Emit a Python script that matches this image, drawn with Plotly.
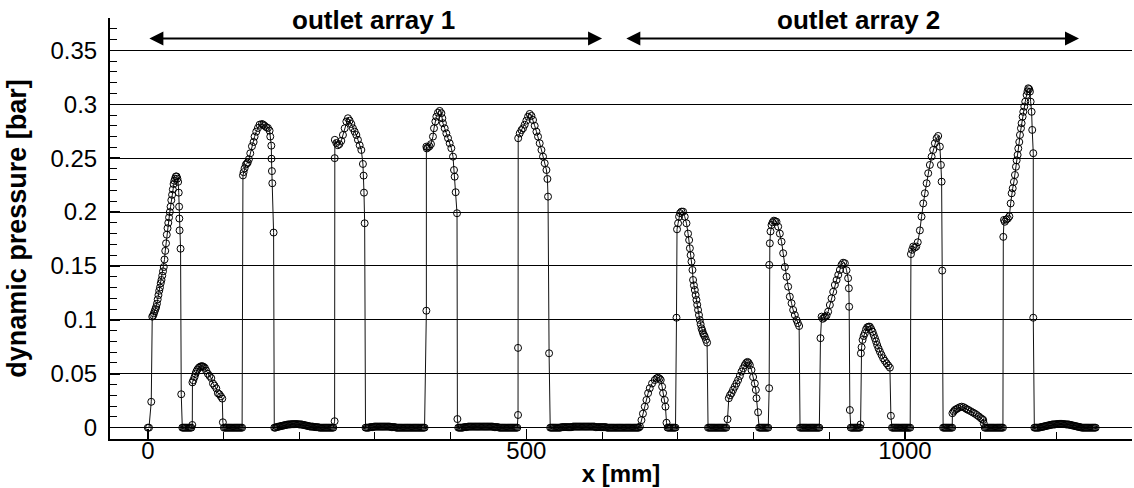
import plotly.graph_objects as go

# ---------------- data ----------------
# outlet array 1 region: x position [mm] and dynamic pressure [bar]
x_array1 = [
    # peak 1
    0, 1.5, 4.5, 5.8, 7, 8, 9, 10, 11, 12, 13, 14, 15, 16, 17, 18, 19, 20, 21, 22,
    23, 24, 25, 26, 27, 28, 29, 30, 31, 32, 33, 34, 35, 36, 37, 38, 39, 40,
    40.8, 41.3, 41.6, 41.9, 43.2, 44.1,
    # zeros
    45.5, 47, 48.5, 50, 51.5, 53, 54.5, 56, 57.5,
    # small bump
    58.7, 58.9, 60, 61.7, 63, 64, 65.5, 67.4, 69, 70.6, 72, 73.5, 75.3, 77, 79.3,
    81.5, 83.8, 86, 88, 90.4, 92.5, 94.5, 96.5, 98.3, 99.1,
    # zeros
    100.5, 102, 103.5, 105, 106.5, 108, 109.5, 111, 112.5, 114, 115.5, 117, 118.5,
    120, 121.5, 123, 124.5,
    # peak 2
    125.6, 126.5, 127.8, 129.5, 130.8, 132, 133.5, 135.3, 137.5, 139.7, 141, 143.2,
    145.4, 147.6, 150.7, 152.5, 154.2, 156.5, 158.6, 160.8, 161.7, 163.1, 163.3,
    163.9, 164.4, 166.1,
    # zeros
    167, 168.5, 170, 171.5, 173, 174.5, 176, 177.5, 179, 180.5,
    182, 183.5, 185, 186.5, 188, 189.5, 191, 192.5, 194, 195.5,
    197, 198.5, 200, 201.5, 203, 204.5, 206, 207.5, 209, 210.5,
    212, 213.5, 215, 216.5, 218, 219.5, 221, 222.5, 224, 225.5,
    227, 228.5, 230, 231.5, 233, 234.5, 236, 237.5, 239, 240.5,
    242, 243.5, 245,
    # peak 3
    246.7, 246.8, 247, 249, 251, 253, 255.5, 257.7, 260, 262.2, 264.3, 266.5, 268.8,
    270.9, 273.2, 275.4, 277.5, 279.8, 282, 284.1, 285, 285.5, 286.4,
    # zeros
    287.5, 289, 290.5, 292, 293.5, 295, 296.5, 298, 299.5, 301,
    302.5, 304, 305.5, 307, 308.5, 310, 311.5, 313, 314.5, 316,
    317.5, 319, 320.5, 322, 323.5, 325, 326.5, 328, 329.5, 331,
    332.5, 334, 335.5, 337, 338.5, 340, 341.5, 343, 344.5, 346,
    347.5, 349, 350.5, 352, 353.5, 355, 356.5, 358, 359.5, 361,
    362.5, 364, 365.5,
    # peak 4
    367.9, 367.9, 368.5, 370, 372, 374, 376.6, 378, 379.8, 381.1, 383.2, 385.5,
    387.7, 389, 389.8, 392.1, 394.3, 396.5, 398.7, 400.9, 403.1, 404.4, 405.3,
    406.6, 408.4, 408.9,
    # zeros
    410, 411.5, 413, 414.5, 416, 417.5, 419, 420.5, 422, 423.5,
    425, 426.5, 428, 429.5, 431, 432.5, 434, 435.5, 437, 438.5,
    440, 441.5, 443, 444.5, 446, 447.5, 449, 450.5, 452, 453.5,
    455, 456.5, 458, 459.5, 461, 462.5, 464, 465.5, 467, 468.5,
    470, 471.5, 473, 474.5, 476, 477.5, 479, 480.5, 482, 483.5,
    485, 486.5, 488,
    # peak 5
    489, 489, 489.2, 491.2, 493.5, 495.6, 497.8, 500, 502.2, 504.4, 506.7, 508.8,
    511, 513.3, 515.4, 517.6, 519.9, 522, 524.2, 526.5, 527.8, 528.6, 530,
    # zeros
    531.5, 533, 534.5, 536, 537.5, 539, 540.5, 542, 543.5, 545,
    546.5, 548, 549.5, 551, 552.5, 554, 555.5, 557, 558.5, 560,
    561.5, 563, 564.5, 566, 567.5, 569, 570.5, 572, 573.5, 575,
    576.5, 578, 579.5, 581, 582.5, 584, 585.5, 587, 588.5, 590,
    591.5, 593, 594.5, 596, 597.5, 599, 600.5, 602, 603.5, 605,
    606.5, 608, 609.5, 611, 612.5, 614, 615.5, 617, 618.5, 620,
    621.5, 623, 624.5, 626, 627.5, 629, 630.5, 632, 633.5, 635,
    636.5, 638, 639.5, 641, 642.5, 644, 645.5, 647, 648.5,
]
p_array1 = [
    # peak 1
    0, 0, 0.024, 0.103, 0.104, 0.106, 0.108, 0.110, 0.112, 0.115, 0.119, 0.123,
    0.127, 0.130, 0.134, 0.137, 0.141, 0.145, 0.149, 0.156, 0.164, 0.171, 0.179,
    0.185, 0.190, 0.195, 0.200, 0.205, 0.211, 0.216, 0.221, 0.226, 0.229, 0.231,
    0.233, 0.233, 0.231, 0.228,
    0.218, 0.205, 0.194, 0.183, 0.166, 0.031,
    # zeros
    0, 0, 0, 0, 0, 0, 0, 0, 0,
    # small bump
    0.0025, 0.042, 0.044, 0.047, 0.050, 0.052, 0.054, 0.0557, 0.0565, 0.057, 0.057,
    0.0565, 0.0555, 0.053, 0.050, 0.048, 0.046, 0.041, 0.039, 0.0365, 0.032, 0.031,
    0.029, 0.027, 0.005,
    # zeros
    0, 0, 0, 0, 0, 0, 0, 0, 0, 0, 0, 0, 0, 0, 0, 0, 0,
    # peak 2
    0.234, 0.237, 0.2406, 0.244, 0.245, 0.246, 0.249, 0.2545, 0.261, 0.265, 0.270,
    0.2746, 0.278, 0.281, 0.2817, 0.281, 0.280, 0.2787, 0.278, 0.2755, 0.270,
    0.2616, 0.2495, 0.238, 0.2267, 0.181,
    # zeros
    0, 0, 0.0005, 0.0008, 0.001, 0.0012, 0.0015, 0.0018, 0.002, 0.0022,
    0.0025, 0.0027, 0.003, 0.003, 0.003, 0.0032, 0.0033, 0.0033, 0.0033, 0.0033,
    0.0033, 0.0032, 0.003, 0.003, 0.003, 0.0027, 0.0025, 0.0022, 0.002, 0.0018,
    0.0015, 0.0012, 0.001, 0.001, 0.001, 0.0008, 0.0005, 0.0005, 0.0005, 0.0003,
    0, 0, 0, 0, 0, 0, 0, 0, 0, 0,
    0, 0, 0,
    # peak 3
    0.006, 0.250, 0.267, 0.264, 0.262, 0.263, 0.266, 0.2715, 0.2777, 0.284, 0.287,
    0.2848, 0.2817, 0.2777, 0.2746, 0.2715, 0.267, 0.262, 0.2576, 0.2446, 0.2338,
    0.218, 0.1896,
    # zeros
    0, 0, 0, 0, 0.0005, 0.0005, 0.0005, 0.0008, 0.001, 0.001,
    0.001, 0.001, 0.001, 0.001, 0.001, 0.001, 0.001, 0.001, 0.001, 0.001,
    0.001, 0.001, 0.0008, 0.0005, 0.0005, 0.0005, 0.0005, 0, 0, 0,
    0, 0, 0, 0, 0, 0, 0, 0, 0, 0,
    0, 0, 0, 0, 0, 0, 0, 0, 0, 0,
    0, 0, 0,
    # peak 4
    0.1085, 0.2607, 0.259, 0.260, 0.261, 0.263, 0.270, 0.2777, 0.284, 0.2885,
    0.2922, 0.2938, 0.2917, 0.287, 0.2824, 0.2777, 0.273, 0.2685, 0.2638, 0.2592,
    0.2514, 0.239, 0.2328, 0.2184, 0.1989, 0.008,
    # zeros
    0, 0, 0, 0, 0, 0.0005, 0.0005, 0.0005, 0.0008, 0.001,
    0.001, 0.001, 0.001, 0.001, 0.001, 0.001, 0.001, 0.001, 0.001, 0.001,
    0.001, 0.001, 0.001, 0.001, 0.001, 0.001, 0.001, 0.001, 0.001, 0.001,
    0.001, 0.0008, 0.0005, 0.0005, 0.0005, 0.0005, 0, 0, 0, 0,
    0, 0, 0, 0, 0, 0, 0, 0, 0, 0,
    0, 0, 0,
    # peak 5
    0.0118, 0.074, 0.2685, 0.273, 0.276, 0.2777, 0.281, 0.2848, 0.2885, 0.291,
    0.2892, 0.2854, 0.280, 0.2746, 0.270, 0.2638, 0.2576, 0.2514, 0.2453, 0.239,
    0.2307, 0.2143, 0.069,
    # zeros
    0, 0, 0, 0, 0, 0, 0, 0, 0, 0,
    0.0005, 0.0005, 0.0005, 0.0005, 0.0005, 0.0005, 0.0005, 0.0005, 0.0005, 0.0005,
    0.001, 0.001, 0.001, 0.001, 0.001, 0.001, 0.001, 0.001, 0.001, 0.001,
    0.001, 0.001, 0.001, 0.001, 0.001, 0.001, 0.001, 0.001, 0.001, 0.001,
    0.0005, 0.0005, 0.0005, 0.0005, 0.0005, 0.0005, 0.0005, 0.0005, 0.0005, 0.0005,
    0, 0, 0, 0, 0, 0, 0, 0, 0, 0,
    0, 0, 0, 0, 0, 0, 0, 0, 0, 0,
    0, 0, 0, 0, 0, 0, 0, 0, 0,
]

# outlet array 2 region
x_array2 = [
    # peak 6
    650, 652, 654, 656.4, 658.6, 660.8, 663, 666, 669.6, 672, 674, 676, 677.5,
    679.3, 680.6, 682.8, 683.7, 685.1,
    # zeros
    686.5, 688, 689.5, 691, 692.5, 694, 695.5, 697,
    # peak 7
    698.3, 699, 700.4, 701.7, 703, 704.8, 707, 709.2, 711.5, 713.6, 715, 716, 717,
    718.1, 719.4, 720.2, 721.3, 722.5, 723.6, 724.7, 725.7, 726.8, 728, 729.1,
    730.2, 731.3, 732.4, 733.4, 734.5, 735.7, 737.2, 738.7,
    # zeros
    740, 741.5, 743, 744.5, 746, 747.5, 749, 750.5, 752, 753.5, 755, 756.5, 758,
    759.5, 761, 762.5, 764,
    # peak 8
    765.7, 767.4, 769, 771, 773, 775.3, 777.5, 779.7, 782, 784.2, 786.3, 788.5,
    790.3, 792.1, 793.7, 795.2, 797.4, 799.5, 801.8, 803.1, 804, 806.1,
    # zeros
    807.5, 809, 810.5, 812, 813.5, 815, 816.5, 818, 819.5,
    # peak 9
    820.7, 820.8, 821.6, 822.5, 823.8, 825.3, 826.9, 828.6, 830.4, 832.6, 834.8,
    837.1, 839.2, 841.4, 843.7, 845.8, 848, 850.3, 852.4, 854.6, 856.9, 858.6,
    860.3,
    # zeros
    861.5, 863, 864.5, 866, 867.5, 869, 870.5, 872, 873.5, 875, 876.5, 878, 879.5,
    881, 882.5, 884, 885.5, 887,
    # peak 10
    888.5, 890, 891.5, 893, 894.5, 896.5, 898.6, 900.9, 903.1, 905.3, 907.5, 909.8,
    912, 914.1, 916.3, 918.4, 920.7, 922.9, 925, 926, 926.4, 927.3,
    # zeros
    928.5, 930, 931.5, 933, 934.5, 936, 937.5, 939, 940.5, 941.5,
    # peak 11
    941.9, 942.8, 944.1, 945.5, 947.1, 948.6, 950.2, 952, 953.7, 955.5, 957.3,
    958.8, 960.4, 961.9, 963.4, 965.2, 967, 969.1, 971.3, 973.5, 975.8, 978,
    980.2, 981.5,
    # zeros
    983, 984.5, 986, 987.5, 989, 990.5, 992, 993.5, 995, 996.5, 998, 999.5, 1001,
    1002.5, 1004, 1005.5, 1007,
    # peak 12
    1008, 1009.5, 1011, 1013, 1015, 1017, 1019.8, 1022, 1024.2, 1026.4, 1028.7,
    1030.8, 1033, 1035.3, 1037.4, 1039.6, 1041.9, 1044, 1046.2, 1047.6, 1048.5,
    1049.3,
    # zeros
    1050.5, 1052, 1053.5, 1055, 1056.5, 1058, 1059.5, 1061, 1062.5,
    # small bump
    1062.8, 1064.5, 1066, 1068, 1070, 1072.5, 1075, 1077.5, 1080, 1082, 1084, 1087,
    1090, 1092.5, 1095, 1097.5, 1100, 1102, 1103.5, 1104.2,
    # zeros
    1105.5, 1107, 1108.5, 1110, 1111.5, 1113, 1114.5, 1116, 1117.5, 1119, 1120.5,
    1122, 1123.5, 1125, 1126.5, 1128, 1129.5,
    # peak 14
    1130, 1130.9, 1132, 1134, 1136, 1138, 1139.7, 1141, 1142.4, 1144, 1145.4,
    1146.7, 1147.6, 1148.9, 1149.8, 1151.1, 1152, 1153.3, 1154.2, 1155.5, 1156.4,
    1157.7, 1159, 1160.8, 1162, 1163, 1164.2, 1165.2, 1166.1, 1167.4, 1168.2,
    1169.6, 1169.6,
    # zeros
    1171, 1172.5, 1174, 1175.5, 1177, 1178.5, 1180, 1181.5, 1183, 1184.5,
    1186, 1187.5, 1189, 1190.5, 1192, 1193.5, 1195, 1196.5, 1198, 1199.5,
    1201, 1202.5, 1204, 1205.5, 1207, 1208.5, 1210, 1211.5, 1213, 1214.5,
    1216, 1217.5, 1219, 1220.5, 1222, 1223.5, 1225, 1226.5, 1228, 1229.5,
    1231, 1232.5, 1234, 1235.5, 1237, 1238.5, 1240, 1241.5, 1243, 1244.5,
    1246, 1247.5, 1249, 1250.5, 1252,
]
p_array2 = [
    # peak 6
    0.001, 0.007, 0.013, 0.0195, 0.0257, 0.032, 0.0366, 0.041, 0.0442, 0.0458,
    0.0464, 0.0455, 0.0442, 0.038, 0.032, 0.0257, 0.0195, 0.0046,
    # zeros
    0, 0, 0, 0, 0, 0, 0, 0,
    # peak 7
    0.102, 0.184, 0.1896, 0.1957, 0.199, 0.2004, 0.2004, 0.1957, 0.1896, 0.180,
    0.174, 0.1664, 0.160, 0.154, 0.1463, 0.137, 0.132, 0.1277, 0.123, 0.1185,
    0.114, 0.1092, 0.1045, 0.0999, 0.096, 0.0922, 0.090, 0.0876, 0.086, 0.0844,
    0.0815, 0.0789,
    # zeros
    0, 0, 0, 0, 0, 0, 0, 0, 0, 0, 0, 0, 0, 0, 0, 0, 0,
    # peak 8
    0.0078, 0.0273, 0.030, 0.032, 0.035, 0.038, 0.041, 0.0442, 0.048, 0.052, 0.055,
    0.058, 0.060, 0.061, 0.060, 0.058, 0.0535, 0.047, 0.041, 0.035, 0.0273, 0.0143,
    # zeros
    0, 0, 0, 0, 0, 0, 0, 0, 0,
    # peak 9
    0.0366, 0.151, 0.171, 0.182, 0.188, 0.1905, 0.192, 0.1915, 0.191, 0.1865,
    0.180, 0.1725, 0.1618, 0.149, 0.140, 0.1308, 0.1215, 0.1154, 0.1092, 0.1045,
    0.0999, 0.097, 0.0943,
    # zeros
    0, 0, 0, 0, 0, 0, 0, 0, 0, 0, 0, 0, 0, 0, 0, 0, 0, 0,
    # peak 10
    0.083, 0.103, 0.101, 0.102, 0.103, 0.104, 0.1076, 0.1138, 0.120, 0.126, 0.1324,
    0.137, 0.1417, 0.1463, 0.151, 0.153, 0.1525, 0.146, 0.1386, 0.1293, 0.1122,
    0.0164,
    # zeros
    0, 0, 0, 0, 0, 0, 0, 0, 0, 0.003,
    # peak 11
    0.069, 0.0746, 0.0814, 0.085, 0.0876, 0.091, 0.0931, 0.0937, 0.0937, 0.0915,
    0.089, 0.086, 0.083, 0.080, 0.0767, 0.0735, 0.0705, 0.0675, 0.0644, 0.062,
    0.0597, 0.0577, 0.0557, 0.011,
    # zeros
    0, 0, 0, 0, 0, 0, 0, 0, 0, 0, 0, 0, 0, 0, 0, 0, 0,
    # peak 12
    0.161, 0.165, 0.168, 0.167, 0.168, 0.172, 0.183, 0.1957, 0.208, 0.2174, 0.2267,
    0.236, 0.2437, 0.2514, 0.2576, 0.2638, 0.2685, 0.2706, 0.2607, 0.2437, 0.2282,
    0.1457,
    # zeros
    0, 0, 0, 0, 0, 0, 0, 0, 0,
    # small bump
    0.0134, 0.015, 0.0164, 0.0172, 0.018, 0.019, 0.0195, 0.019, 0.018, 0.017,
    0.0164, 0.0152, 0.014, 0.013, 0.0118, 0.0105, 0.009, 0.008, 0.0071, 0.004,
    # zeros
    0, 0, 0, 0, 0, 0, 0, 0, 0, 0, 0, 0, 0, 0, 0, 0, 0,
    # peak 14
    0.177, 0.1927, 0.191, 0.193, 0.194, 0.196, 0.208, 0.2174, 0.222, 0.228, 0.2344,
    0.242, 0.248, 0.253, 0.259, 0.265, 0.2715, 0.2777, 0.2824, 0.2885, 0.293,
    0.2978, 0.3024, 0.3086, 0.312, 0.3148, 0.314, 0.3117, 0.3024, 0.293, 0.2762,
    0.2546, 0.102,
    # zeros
    0, 0, 0, 0, 0, 0.0003, 0.0005, 0.0008, 0.001, 0.0012,
    0.0015, 0.0018, 0.002, 0.0022, 0.0025, 0.0027, 0.003, 0.003, 0.003, 0.0032,
    0.0033, 0.0034, 0.0035, 0.0035, 0.0035, 0.0034, 0.0033, 0.0032, 0.003, 0.003,
    0.003, 0.0027, 0.0025, 0.0022, 0.002, 0.0018, 0.0015, 0.0012, 0.001, 0.0008,
    0.0005, 0.0003, 0, 0, 0, 0, 0, 0, 0, 0,
    0, 0, 0, 0, 0,
]

# annotation content
array_labels = ["outlet array 1", "outlet array 2"]
array_label_x = [297.5, 939]
array_spans = [(0, 600), (630, 1230)]
arrow_level = 0.361

x_tick_vals = [0, 500, 1000]
x_tick_text = ["0", "500", "1000"]
y_tick_vals = [0, 0.05, 0.1, 0.15, 0.2, 0.25, 0.3, 0.35]
y_tick_text = ["0", "0.05", "0.1", "0.15", "0.2", "0.25", "0.3", "0.35"]

assert len(x_array1) == len(p_array1), (len(x_array1), len(p_array1))
assert len(x_array2) == len(p_array2), (len(x_array2), len(p_array2))

x_mm = x_array1 + x_array2
p_bar = p_array1 + p_array2

# ---------------- figure ----------------
FONT = "Liberation Sans, Arial, Helvetica, sans-serif"

fig = go.Figure()
fig.add_trace(go.Scatter(
    x=x_mm, y=p_bar, mode="lines+markers",
    line=dict(color="#111111", width=1),
    marker=dict(symbol="circle-open", size=7, color="black", line=dict(width=1, color="black")),
    hoverinfo="skip", showlegend=False,
))

fig.update_layout(
    width=1134, height=488,
    margin=dict(l=110, r=2, t=18, b=49),
    paper_bgcolor="white", plot_bgcolor="white",
    font=dict(family=FONT, size=24, color="black"),
    showlegend=False,
)

fig.update_xaxes(
    range=[-50, 1300], automargin=False,
    tickmode="array", tickvals=x_tick_vals, ticktext=x_tick_text,
    ticks="inside", ticklen=10, tickwidth=1.5, tickcolor="black",
    minor=dict(tickmode="linear", tick0=0, dtick=100, ticks="inside", ticklen=7,
               tickwidth=1, tickcolor="black", showgrid=False),
    showline=True, linecolor="black", linewidth=2,
    showgrid=False, zeroline=False,
    tickfont=dict(size=24), ticklabelstandoff=-11,
    title=dict(text="<b>x [mm]</b>", font=dict(size=24), standoff=2),
)

fig.update_yaxes(
    range=[-0.0105, 0.38], automargin=False,
    tickmode="array", tickvals=y_tick_vals, ticktext=y_tick_text,
    ticks="inside", ticklen=10, tickwidth=1.5, tickcolor="black",
    minor=dict(tickmode="linear", tick0=0, dtick=0.01, ticks="inside", ticklen=7,
               tickwidth=1, tickcolor="black", showgrid=False),
    showline=True, linecolor="black", linewidth=2,
    showgrid=True, gridcolor="black", gridwidth=1, zeroline=False,
    tickfont=dict(size=24), ticklabelstandoff=6,
    title=dict(text="<b>dynamic pressure [bar]</b>", font=dict(size=27), standoff=16),
)

for (x0, x1) in array_spans:
    fig.add_annotation(
        x=x1, y=arrow_level, ax=x0, ay=arrow_level,
        xref="x", yref="y", axref="x", ayref="y",
        text="", showarrow=True, arrowside="end+start",
        arrowhead=2, startarrowhead=2, arrowsize=1.4, startarrowsize=1.4,
        arrowwidth=2, arrowcolor="black", standoff=0, startstandoff=0,
    )

for label, lx in zip(array_labels, array_label_x):
    fig.add_annotation(
        x=lx, y=0.995, xref="x", yref="paper",
        text="<b>" + label + "</b>", showarrow=False,
        xanchor="center", yanchor="middle",
        font=dict(size=26, color="black", family=FONT),
    )

fig.write_html("out.html", config={"displayModeBar": False, "staticPlot": True})
